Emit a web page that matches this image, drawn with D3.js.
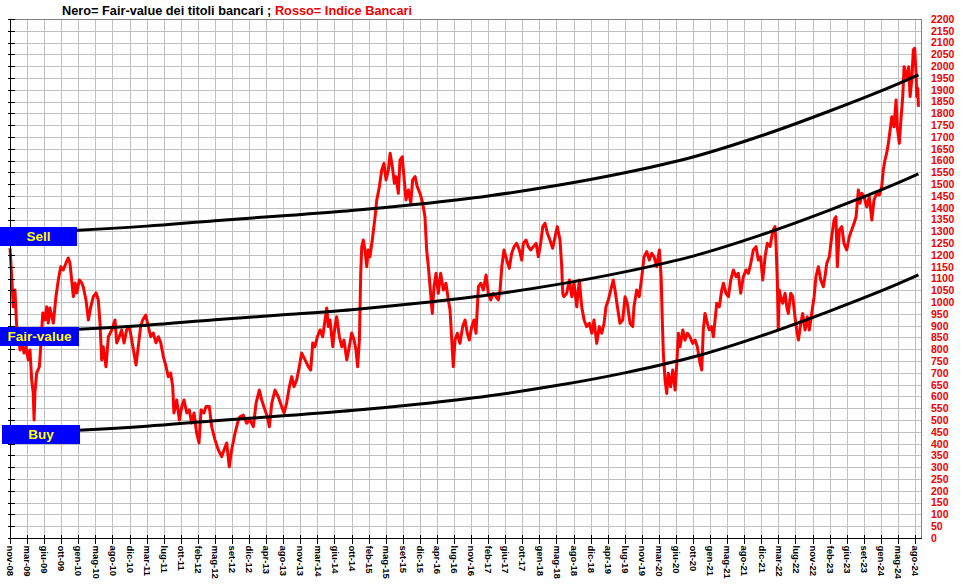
<!DOCTYPE html>
<html><head><meta charset="utf-8">
<script src="https://cdn.jsdelivr.net/npm/d3@7"></script>
<style>body{margin:0;background:#fff;} svg{display:block;font-family:Arial,"Liberation Sans",sans-serif;}</style>
</head><body><svg id="c" width="966" height="588"></svg>
<script>
const xLabels = ["nov-08","mar-09","giu-09","ott-09","gen-10","mag-10","ago-10","dic-10","mar-11","lug-11","ott-11","feb-12","mag-12","set-12","dic-12","apr-13","ago-13","nov-13","mar-14","giu-14","ott-14","feb-15","mag-15","set-15","dic-15","apr-16","lug-16","nov-16","feb-17","giu-17","ott-17","gen-18","mag-18","ago-18","dic-18","apr-19","lug-19","nov-19","mar-20","giu-20","ott-20","gen-21","mag-21","ago-21","dic-21","mar-22","lug-22","nov-22","feb-23","giu-23","set-23","gen-24","mag-24","ago-24"];
const yTicks = d3.range(0, 2201, 50);
const bandT     = [0, 4, 8, 12, 16, 20, 24, 28, 32, 36, 40, 44, 48, 52, 53.2];
const fairValue = [872, 885, 902, 925, 946, 968, 996, 1030, 1074, 1128, 1195, 1285, 1390, 1505, 1543];
const sellLevel = [1292, 1305, 1322, 1345, 1366, 1388, 1416, 1450, 1494, 1548, 1615, 1705, 1810, 1925, 1963];
const buyLevel  = [444, 457, 474, 497, 518, 540, 568, 602, 646, 700, 767, 857, 962, 1077, 1115];
const bankIndex = [[0.00,1229],[0.10,1108],[0.19,980],[0.29,1051],[0.39,896],[0.49,853],[0.59,797],[0.69,827],[0.82,784],[0.94,811],[1.07,755],[1.17,797],[1.27,670],[1.36,615],[1.41,500],[1.46,615],[1.56,699],[1.72,726],[1.80,811],[1.92,954],[2.05,924],[2.15,980],[2.24,911],[2.34,975],[2.54,911],[2.69,1023],[2.83,1094],[2.97,1150],[3.12,1136],[3.28,1166],[3.41,1187],[3.51,1166],[3.61,1094],[3.71,1023],[3.81,1081],[3.91,1039],[4.06,1094],[4.20,1081],[4.29,1065],[4.45,1009],[4.59,924],[4.73,980],[4.88,1023],[5.04,1039],[5.17,1009],[5.27,911],[5.37,755],[5.46,811],[5.62,726],[5.76,853],[5.96,882],[6.15,924],[6.25,827],[6.40,853],[6.54,882],[6.68,827],[6.83,882],[6.99,896],[7.13,839],[7.26,784],[7.38,733],[7.51,811],[7.65,896],[7.77,924],[7.95,945],[8.10,896],[8.24,853],[8.39,869],[8.55,827],[8.69,853],[8.83,827],[8.98,769],[9.14,726],[9.27,684],[9.41,699],[9.53,641],[9.60,530],[9.76,585],[9.92,500],[10.06,557],[10.19,585],[10.35,530],[10.50,543],[10.64,487],[10.78,530],[10.93,445],[11.07,403],[11.19,543],[11.36,530],[11.48,557],[11.67,557],[11.81,472],[12.01,415],[12.20,373],[12.40,345],[12.53,373],[12.69,403],[12.84,302],[12.98,373],[13.18,445],[13.37,500],
[13.47,514],[13.66,521],[13.86,487],[14.06,500],[14.25,472],[14.41,572],[14.60,627],[14.74,585],[14.93,543],[15.07,514],[15.19,472],[15.33,572],[15.52,627],[15.71,599],[15.91,557],[16.05,530],[16.20,572],[16.36,641],[16.50,684],[16.63,641],[16.79,670],[16.94,726],[17.08,784],[17.28,755],[17.47,726],[17.61,712],[17.73,827],[17.86,811],[18.00,853],[18.16,882],[18.31,853],[18.45,924],[18.55,975],[18.64,896],[18.74,924],[18.90,811],[19.03,896],[19.13,938],[19.29,853],[19.43,811],[19.56,839],[19.72,755],[19.87,811],[20.01,869],[20.15,839],[20.26,797],[20.36,726],[20.46,839],[20.54,1123],[20.60,1235],[20.69,1263],[20.79,1221],[20.89,1150],[20.98,1221],[21.08,1192],[21.24,1277],[21.38,1362],[21.48,1433],[21.63,1489],[21.77,1560],[21.90,1588],[22.02,1518],[22.16,1560],[22.26,1631],[22.39,1574],[22.51,1504],[22.61,1532],[22.74,1461],[22.84,1602],[22.97,1616],[23.07,1532],[23.19,1433],[23.33,1475],[23.47,1419],[23.58,1518],[23.72,1532],[23.85,1489],[24.01,1461],[24.17,1419],[24.30,1362],[24.40,1221],[24.50,1150],[24.60,1065],[24.73,952],[24.83,1065],[24.95,1122],[25.08,1037],[25.22,1122],[25.38,1051],[25.53,1080],[25.67,1009],[25.77,966],[25.87,839],[25.96,726],[26.06,839],[26.20,868],[26.35,825],[26.51,896],[26.65,924],[26.78,868],[26.90,839],
[27.04,896],[27.17,924],[27.29,868],[27.43,1065],[27.57,1080],[27.72,1051],[27.88,1115],[28.01,1037],[28.15,1009],[28.30,1037],[28.46,1023],[28.60,1009],[28.70,1051],[28.80,1150],[28.93,1221],[29.09,1178],[29.24,1143],[29.38,1207],[29.52,1235],[29.67,1249],[29.83,1221],[29.97,1178],[30.06,1249],[30.22,1263],[30.35,1235],[30.49,1221],[30.65,1235],[30.81,1249],[30.94,1192],[31.08,1249],[31.20,1320],[31.33,1334],[31.47,1292],[31.62,1263],[31.78,1228],[31.92,1277],[32.05,1320],[32.21,1263],[32.31,1150],[32.37,1037],[32.44,1023],[32.60,1037],[32.76,1094],[32.90,1023],[33.03,1080],[33.19,980],[33.34,1094],[33.48,980],[33.62,924],[33.77,896],[33.93,910],[34.07,868],[34.20,924],[34.36,825],[34.51,896],[34.65,868],[34.79,910],[34.90,980],[35.04,1009],[35.18,1051],[35.33,1094],[35.43,1051],[35.57,980],[35.72,910],[35.88,924],[36.02,1023],[36.15,995],[36.31,910],[36.47,896],[36.54,980],[36.70,1051],[36.85,1023],[37.00,1108],[37.13,1192],[37.29,1214],[37.44,1178],[37.58,1207],[37.72,1192],[37.87,1150],[38.03,1221],[38.13,1108],[38.20,924],[38.26,783],[38.36,670],[38.46,613],[38.55,698],[38.69,641],[38.81,712],[38.95,627],[39.05,741],[39.14,868],[39.24,811],[39.40,882],[39.53,839],[39.67,868],[39.82,853],[39.98,825],[40.12,839],[40.25,811],
[40.41,741],[40.51,712],[40.60,882],[40.70,952],[40.84,910],[40.95,882],[41.09,896],[41.19,853],[41.29,924],[41.39,995],[41.54,980],[41.68,1051],[41.78,1080],[41.93,1037],[42.07,1023],[42.21,1094],[42.36,1136],[42.52,1108],[42.65,1122],[42.79,1037],[42.95,1108],[43.10,1136],[43.24,1122],[43.38,1164],[43.53,1221],[43.69,1235],[43.82,1178],[43.96,1192],[44.08,1094],[44.22,1192],[44.35,1249],[44.51,1235],[44.61,1277],[44.70,1306],[44.80,1320],[44.86,1249],[44.94,1080],[44.99,882],[45.05,1051],[45.13,1023],[45.25,995],[45.39,1037],[45.49,980],[45.58,952],[45.72,1037],[45.84,1023],[45.97,938],[46.07,882],[46.17,839],[46.31,910],[46.42,952],[46.56,882],[46.69,938],[46.81,882],[46.95,952],[47.09,1023],[47.20,1108],[47.34,1150],[47.48,1094],[47.63,1065],[47.73,1108],[47.83,1164],[47.98,1192],[48.12,1277],[48.26,1348],[48.37,1362],[48.45,1150],[48.57,1306],[48.71,1320],[48.84,1249],[49.00,1221],[49.15,1277],[49.29,1306],[49.43,1334],[49.55,1362],[49.68,1475],[49.78,1419],[49.88,1461],[50.01,1447],[50.17,1404],[50.32,1447],[50.47,1348],[50.60,1433],[50.76,1461],[50.91,1454],[51.05,1489],[51.14,1560],[51.24,1602],[51.34,1631],[51.44,1673],[51.54,1729],[51.64,1786],[51.77,1743],[51.89,1857],[51.96,1743],[52.08,1673],[52.16,1758],[52.28,1871],[52.36,1998],[52.47,1970],[52.55,1941],[52.63,1998],[52.71,1871],[52.81,1941],[52.90,2069],[52.98,2076],[53.06,1970],[53.10,1871],[53.16,1906],[53.20,1828]];
const bandLabels = ["Sell", "Fair-value", "Buy"];

const svg = d3.select("#c");
const L = 10, R = 921, T = 19, B = 538;
const x = d3.scaleLinear().domain([0, 53.35]).range([L, R]);
const y = d3.scaleLinear().domain([0, 2200]).range([B, T]);

svg.append("rect").attr("width", 966).attr("height", 588).attr("fill", "#fff");

// grid
const grid = svg.append("g").attr("shape-rendering", "crispEdges").attr("stroke", "#c0c0c0").attr("stroke-width", 1);
grid.selectAll(".h").data(yTicks.filter(d => d > 0 && d < 2200)).join("line")
  .attr("x1", L).attr("x2", R).attr("y1", d => Math.round(y(d)) + 0.5).attr("y2", d => Math.round(y(d)) + 0.5);
grid.selectAll(".v").data(d3.range(1, xLabels.length)).join("line")
  .attr("y1", T).attr("y2", B).attr("x1", d => Math.round(x(d)) + 0.5).attr("x2", d => Math.round(x(d)) + 0.5);

// frame top / right
svg.append("path").attr("d", `M${L},${T + 0.5}H${R + 0.5}V${B}`).attr("fill", "none").attr("stroke", "#808080").attr("shape-rendering", "crispEdges");

// red index line
const lineIdx = d3.line().x(d => x(d[0])).y(d => y(d[1]));
svg.append("path").datum(bankIndex).attr("d", lineIdx).attr("fill", "none").attr("stroke", "#ff0000").attr("stroke-width", 3).attr("stroke-linejoin", "round");

// black bands
const bandLine = d3.line().curve(d3.curveMonotoneX).x(d => x(d[0])).y(d => y(d[1]));
[sellLevel, fairValue, buyLevel].forEach(arr => {
  svg.append("path").datum(bandT.map((t, i) => [t, arr[i]])).attr("d", bandLine)
    .attr("fill", "none").attr("stroke", "#000").attr("stroke-width", 3);
});

// left axis
const yAxisL = d3.axisLeft(y).tickValues(yTicks).tickSize(3).tickFormat("");
const gl = svg.append("g").attr("transform", `translate(${L + 0.5},0)`).call(yAxisL);
gl.select(".domain").remove();
gl.selectAll(".tick line").attr("x1", -3).attr("x2", 4).attr("stroke", "#000").attr("shape-rendering", "crispEdges");
svg.append("line").attr("x1", L + 0.5).attr("x2", L + 0.5).attr("y1", T).attr("y2", B + 1).attr("stroke", "#000").attr("shape-rendering", "crispEdges");

// right labels
const yAxisR = d3.axisRight(y).tickValues(yTicks).tickSize(0).tickPadding(10).tickFormat(d => d);
const gr = svg.append("g").attr("transform", `translate(${R},0)`).call(yAxisR);
gr.select(".domain").remove();
gr.selectAll("text").attr("fill", "#ee0000").attr("font-size", "10.5px").attr("font-weight", "bold").attr("font-family", "Arial, 'Liberation Sans', sans-serif");

// bottom axis
const xAxis = d3.axisBottom(x).tickValues(d3.range(xLabels.length)).tickSize(4).tickFormat(i => xLabels[i]);
const gb = svg.append("g").attr("transform", `translate(0,${B + 0.5})`).call(xAxis);
gb.select(".domain").remove();
gb.selectAll(".tick line").attr("y1", -4).attr("y2", 5).attr("stroke", "#000").attr("shape-rendering", "crispEdges");
gb.selectAll("text").attr("transform", "rotate(90)").attr("x", 7).attr("y", 0).attr("dy", "0.35em")
  .style("text-anchor", "start").attr("fill", "#000").attr("font-size", "9.5px").attr("font-weight", "bold").attr("font-family", "Arial, 'Liberation Sans', sans-serif");
svg.append("line").attr("x1", L).attr("x2", R + 1).attr("y1", B + 0.5).attr("y2", B + 0.5).attr("stroke", "#000").attr("shape-rendering", "crispEdges");

// band label boxes
const boxes = [
  {t: bandLabels[0], v: sellLevel[0], x0: 0, w: 77, dy: 3},
  {t: bandLabels[1], v: fairValue[0], x0: 0, w: 79, dy: 4},
  {t: bandLabels[2], v: buyLevel[0], x0: 2, w: 78, dy: 1}
];
boxes.forEach(b => {
  const cy = y(b.v) + b.dy;
  svg.append("rect").attr("x", b.x0).attr("y", Math.round(cy - 9)).attr("width", b.w).attr("height", 19).attr("fill", "#0000ff");
  svg.append("text").attr("x", b.x0 + b.w / 2).attr("y", cy + 5).attr("text-anchor", "middle")
    .attr("fill", "#ffff00").attr("font-weight", "bold").attr("font-size", "13.5px").text(b.t);
});

// title
const title = svg.append("text").attr("x", 62).attr("y", 15).attr("font-weight", "bold").attr("font-size", "13px")
  .attr("textLength", 350).attr("lengthAdjust", "spacingAndGlyphs");
title.append("tspan").attr("fill", "#000").text("Nero= Fair-value dei titoli bancari ; ");
title.append("tspan").attr("fill", "#ee0000").text("Rosso= Indice Bancari");
</script>
</body></html>
